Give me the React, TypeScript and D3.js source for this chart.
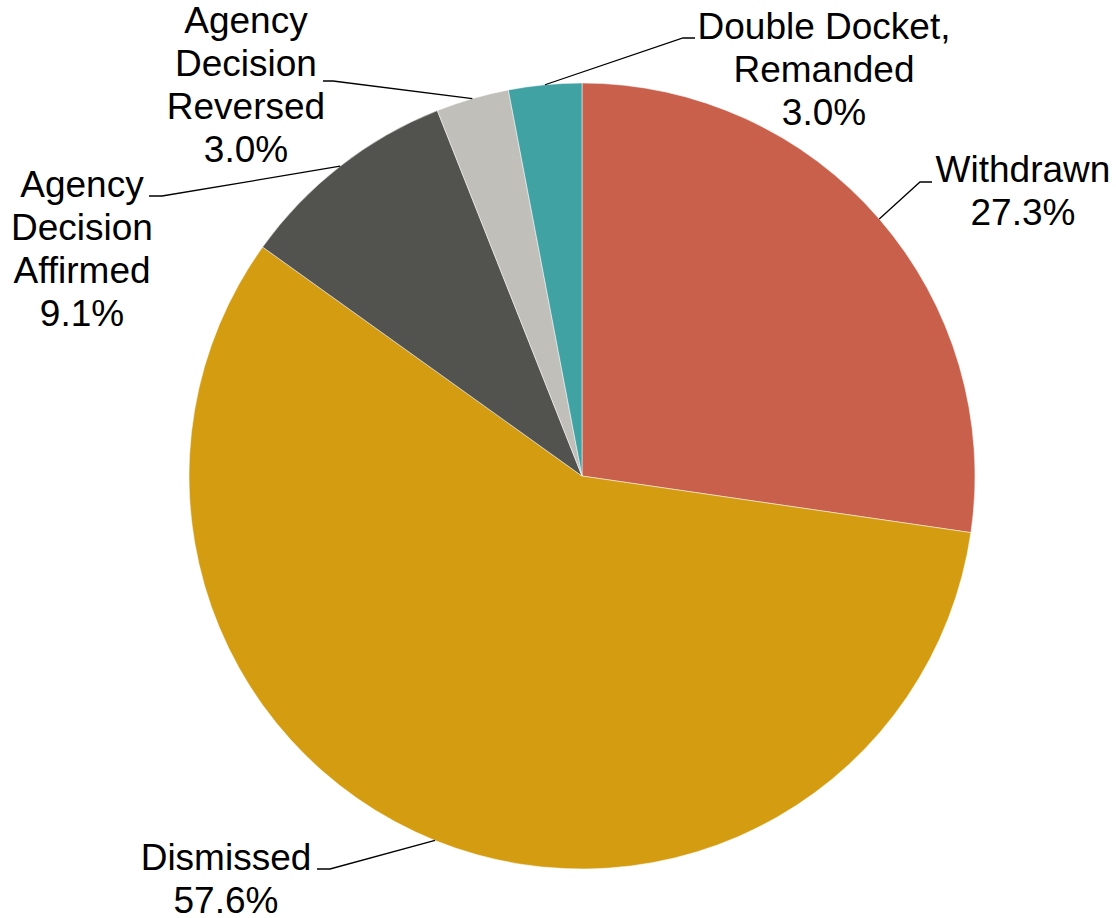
import React from "react";
import * as d3 from "d3";

// ---- data ----
const categories: string[] = [
  "Withdrawn",
  "Dismissed",
  "Agency Decision Affirmed",
  "Agency Decision Reversed",
  "Double Docket, Remanded",
];
const percents: number[] = [27.3, 57.6, 9.1, 3.0, 3.0];
const labelLines: string[][] = [
  ["Withdrawn"],
  ["Dismissed"],
  ["Agency", "Decision", "Affirmed"],
  ["Agency", "Decision", "Reversed"],
  ["Double Docket,", "Remanded"],
];
const colors: string[] = ["#C8604B", "#D49C10", "#52524E", "#C0BFBA", "#41A2A4"];

// ---- layout (label placement, as in the original) ----
const W = 1116;
const H = 918;
const CX = 582;
const CY = 476;
const R = 393;
const FONT = 37;
const LINE_H = 43;
// label text centre x, first baseline y, leader elbow, leader end
const labelLayout = [
  { x: 1023, y: 182, elbow: [920, 182], end: [932, 182] },
  { x: 226, y: 870, elbow: [330, 869], end: [317, 869] },
  { x: 82, y: 197, elbow: [162, 196], end: [149, 196] },
  { x: 246, y: 33, elbow: [333, 81], end: [323, 81] },
  { x: 824, y: 39, elbow: [683, 38], end: [695, 38] },
];

export default function App() {
  const pie = d3
    .pie<number>()
    .sort(null)
    .value((d) => d)
    .startAngle(0)
    .endAngle(2 * Math.PI);
  const arcs = pie(percents);
  const arc = d3.arc<d3.PieArcDatum<number>>().innerRadius(0).outerRadius(R);
  const fmt = d3.format(".1f");

  return (
    <svg
      width={W}
      height={H}
      style={{ position: "absolute", left: 0, top: 0, background: "#fff" }}
      fontFamily="'Liberation Sans', Arial, sans-serif"
    >
      <g transform={`translate(${CX},${CY})`}>
        {arcs.map((a, i) => (
          <path
            key={categories[i]}
            d={arc(a) || ""}
            fill={colors[i]}
            stroke="#ffffff"
            strokeWidth={0.5}
          />
        ))}
      </g>
      {arcs.map((a, i) => {
        const mid = (a.startAngle + a.endAngle) / 2;
        const px = CX + R * Math.sin(mid);
        const py = CY - R * Math.cos(mid);
        const L = labelLayout[i];
        const lines = [...labelLines[i], fmt(percents[i]) + "%"];
        return (
          <g key={"lbl" + i}>
            <polyline
              points={`${px},${py} ${L.elbow[0]},${L.elbow[1]} ${L.end[0]},${L.end[1]}`}
              fill="none"
              stroke="#000"
              strokeWidth={1.3}
            />
            <text textAnchor="middle" fontSize={FONT} fill="#000">
              {lines.map((t, j) => (
                <tspan key={j} x={L.x} y={L.y + j * LINE_H}>
                  {t}
                </tspan>
              ))}
            </text>
          </g>
        );
      })}
    </svg>
  );
}
